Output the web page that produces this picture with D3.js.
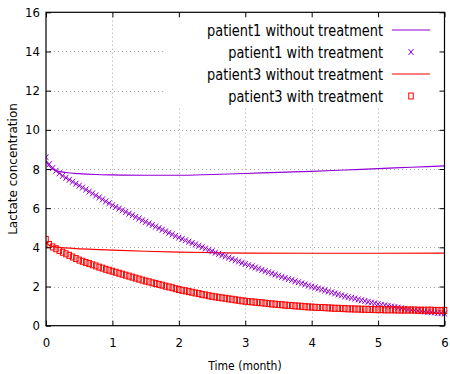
<!DOCTYPE html>
<html>
<head>
<meta charset="utf-8">
<script src="https://cdn.jsdelivr.net/npm/d3@7"></script>
<style>
  html, body { margin: 0; padding: 0; background: #fff; }
  svg { display: block; }
  text { font-family: "DejaVu Sans Condensed", "DejaVu Sans", sans-serif; fill: #000; }
</style>
</head>
<body>
<svg id="chart" width="450" height="374"></svg>
<script>
// ---------- data ----------
const seriesNames = [
  "patient1 without treatment",
  "patient1 with treatment",
  "patient3 without treatment",
  "patient3 with treatment"
];
const xTicks = [0, 1, 2, 3, 4, 5, 6];
const yTicks = [0, 2, 4, 6, 8, 10, 12, 14, 16];

// model curves (lines)
const p1LineTime  = [0, 0.05, 0.1, 0.2, 0.3, 0.5, 0.75, 1, 1.5, 2, 2.5, 3, 3.5, 4, 4.5, 5, 5.5, 6];
const p1LineValue = [8.4, 8.15, 8.0, 7.88, 7.82, 7.76, 7.72, 7.7, 7.68, 7.68, 7.72, 7.77, 7.83, 7.88, 7.95, 8.02, 8.09, 8.16];
const p3LineTime  = [0, 0.05, 0.1, 0.2, 0.4, 0.7, 1, 1.5, 2, 2.5, 3, 4, 5, 6];
const p3LineValue = [4.25, 4.1, 4.04, 4.0, 3.95, 3.9, 3.86, 3.8, 3.76, 3.73, 3.71, 3.7, 3.7, 3.71];

// sampled points (markers), every 0.05 month
const treatTime = [
  0.00,0.05,0.10,0.15,0.20,0.25,0.30,0.35,0.40,0.45,0.50,0.55,0.60,0.65,0.70,0.75,0.80,0.85,0.90,0.95,
  1.00,1.05,1.10,1.15,1.20,1.25,1.30,1.35,1.40,1.45,1.50,1.55,1.60,1.65,1.70,1.75,1.80,1.85,1.90,1.95,
  2.00,2.05,2.10,2.15,2.20,2.25,2.30,2.35,2.40,2.45,2.50,2.55,2.60,2.65,2.70,2.75,2.80,2.85,2.90,2.95,
  3.00,3.05,3.10,3.15,3.20,3.25,3.30,3.35,3.40,3.45,3.50,3.55,3.60,3.65,3.70,3.75,3.80,3.85,3.90,3.95,
  4.00,4.05,4.10,4.15,4.20,4.25,4.30,4.35,4.40,4.45,4.50,4.55,4.60,4.65,4.70,4.75,4.80,4.85,4.90,4.95,
  5.00,5.05,5.10,5.15,5.20,5.25,5.30,5.35,5.40,5.45,5.50,5.55,5.60,5.65,5.70,5.75,5.80,5.85,5.90,5.95,
  6.00
];
const p1Treat = [
  8.60,8.25,8.05,7.91,7.78,7.65,7.55,7.45,7.35,7.25,7.15,7.05,6.95,6.85,6.75,6.65,6.55,6.45,6.35,6.25,
  6.15,6.06,5.98,5.89,5.81,5.72,5.64,5.55,5.47,5.38,5.30,5.22,5.14,5.06,4.98,4.90,4.82,4.74,4.66,4.58,
  4.50,4.43,4.36,4.29,4.22,4.15,4.08,4.01,3.94,3.87,3.80,3.73,3.67,3.60,3.54,3.47,3.41,3.34,3.28,3.21,
  3.15,3.09,3.03,2.97,2.91,2.85,2.79,2.73,2.67,2.61,2.55,2.49,2.44,2.38,2.33,2.27,2.22,2.16,2.11,2.05,
  2.00,1.95,1.90,1.85,1.80,1.75,1.70,1.65,1.60,1.55,1.50,1.46,1.42,1.38,1.34,1.30,1.26,1.22,1.18,1.14,
  1.10,1.07,1.04,1.01,0.98,0.95,0.92,0.89,0.86,0.83,0.80,0.78,0.76,0.74,0.72,0.70,0.69,0.67,0.65,0.64,
  0.62
];
const p3Treat = [
  4.40,4.15,4.02,3.93,3.84,3.75,3.67,3.59,3.51,3.43,3.35,3.29,3.23,3.17,3.11,3.05,2.99,2.94,2.88,2.83,
  2.78,2.73,2.68,2.63,2.58,2.53,2.48,2.43,2.38,2.33,2.28,2.24,2.19,2.15,2.11,2.07,2.02,1.98,1.94,1.89,
  1.85,1.81,1.78,1.74,1.71,1.67,1.64,1.60,1.57,1.53,1.50,1.47,1.45,1.42,1.40,1.37,1.35,1.32,1.30,1.27,
  1.25,1.23,1.22,1.20,1.18,1.17,1.15,1.13,1.11,1.10,1.08,1.07,1.05,1.04,1.03,1.01,1.00,0.99,0.97,0.96,
  0.95,0.94,0.93,0.93,0.92,0.91,0.90,0.89,0.89,0.88,0.87,0.86,0.86,0.85,0.85,0.84,0.84,0.83,0.83,0.82,
  0.82,0.82,0.81,0.81,0.81,0.81,0.80,0.80,0.80,0.80,0.80,0.80,0.79,0.79,0.79,0.79,0.79,0.78,0.78,0.78,
  0.78
];

const purple = "#9400d3";
const red = "#ff0000";

// ---------- layout ----------
const svg = d3.select("#chart");
const L = 46, R = 444.5, T = 12.3, B = 325.7;
const x = d3.scaleLinear().domain([0, 6]).range([L, R]);
const y = d3.scaleLinear().domain([0, 16]).range([B, T]);

// grid
const grid = svg.append("g").attr("stroke", "#a8a8a8").attr("stroke-width", 1).attr("stroke-dasharray", "1,3");
grid.selectAll(".gx").data(xTicks.slice(1, -1)).join("line")
  .attr("x1", d => Math.round(x(d)) + 0.5).attr("x2", d => Math.round(x(d)) + 0.5)
  .attr("y1", B).attr("y2", T);
grid.selectAll(".gy").data(yTicks.slice(1, -1)).join("line")
  .attr("y1", d => Math.round(y(d)) + 0.5).attr("y2", d => Math.round(y(d)) + 0.5)
  .attr("x1", L).attr("x2", R);

// legend background (opaque, hides grid)
svg.append("rect").attr("x", 166).attr("y", T).attr("width", R - 166).attr("height", 108 - T).attr("fill", "#fff");

// data
svg.append("defs").append("clipPath").attr("id", "clip")
  .append("rect").attr("x", L).attr("y", T - 4).attr("width", R - L + 4).attr("height", B - T + 4);
const plot = svg.append("g").attr("clip-path", "url(#clip)");

const line = d3.line().x(d => x(d[0])).y(d => y(d[1])).curve(d3.curveMonotoneX);

plot.append("path").datum(p3LineTime.map((t, i) => [t, p3LineValue[i]]))
  .attr("d", line).attr("fill", "none").attr("stroke", red).attr("stroke-width", 1.2);
plot.append("path").datum(p1LineTime.map((t, i) => [t, p1LineValue[i]]))
  .attr("d", line).attr("fill", "none").attr("stroke", purple).attr("stroke-width", 1.2);

const crossPath = "M-2.5,-3L2.5,3M-2.5,3L2.5,-3";
function drawCross(g, cx, cy) {
  g.append("path").attr("transform", `translate(${cx},${cy})`).attr("d", crossPath)
    .attr("fill", "none").attr("stroke", purple).attr("stroke-width", 1);
}
function drawSquare(g, cx, cy) {
  g.append("rect").attr("x", cx - 2.25).attr("y", cy - 3).attr("width", 4.5).attr("height", 6)
    .attr("fill", "none").attr("stroke", red).attr("stroke-width", 1);
}

const g1 = plot.append("g");
treatTime.forEach((t, i) => drawCross(g1, x(t), y(p1Treat[i])));
const g3 = plot.append("g");
treatTime.forEach((t, i) => drawSquare(g3, x(t), y(p3Treat[i])));

// axes (ticks inward, mirrored)
function styleAxis(g) {
  g.select(".domain").remove();
  g.selectAll(".tick line").attr("stroke", "#000");
  g.selectAll("text").style("font-family", '"DejaVu Sans Condensed", "DejaVu Sans", sans-serif')
    .style("font-size", "13px");
}
svg.append("g").attr("transform", `translate(${L},0)`)
  .call(d3.axisLeft(y).tickValues(yTicks).tickSize(-5).tickPadding(6).tickFormat(d3.format("d")))
  .call(styleAxis);
svg.append("g").attr("transform", `translate(0,${B})`)
  .call(d3.axisBottom(x).tickValues(xTicks).tickSize(-5).tickPadding(12).tickFormat(d3.format("d")))
  .call(styleAxis);
svg.append("g").attr("transform", `translate(${R},0)`)
  .call(d3.axisRight(y).tickValues(yTicks).tickSize(-5).tickFormat(""))
  .call(styleAxis);
svg.append("g").attr("transform", `translate(0,${T})`)
  .call(d3.axisTop(x).tickValues(xTicks).tickSize(-5).tickFormat(""))
  .call(styleAxis);

// border
svg.append("rect").attr("x", L).attr("y", T).attr("width", R - L).attr("height", B - T)
  .attr("fill", "none").attr("stroke", "#000").attr("stroke-width", 1.2);

// legend
const legRows = [30, 52, 74, 96];
const leg = svg.append("g");
const legTexts = [];
seriesNames.forEach((name, i) => {
  const yy = legRows[i];
  const t = leg.append("text").attr("x", 383).attr("y", yy).attr("dy", "0.36em").attr("text-anchor", "end")
    .style("font-size", "16.5px").text(name);
  legTexts.push(t);
  if (i === 0 || i === 2) {
    leg.append("line").attr("x1", 392).attr("x2", 430).attr("y1", yy).attr("y2", yy)
      .attr("stroke", i === 0 ? purple : red).attr("stroke-width", 1.2);
  } else if (i === 1) {
    drawCross(leg, 411, yy);
  } else {
    drawSquare(leg, 411, yy);
  }
});
// squeeze legend text horizontally to match the reference proportions
const factor = 176 / legTexts[0].node().getComputedTextLength();
legTexts.forEach(t => {
  const w = t.node().getComputedTextLength();
  t.attr("textLength", w * factor).attr("lengthAdjust", "spacingAndGlyphs");
});

// axis titles
svg.append("text").attr("x", 245).attr("y", 370).attr("text-anchor", "middle")
  .style("font-size", "12px").text("Time (month)");
svg.append("text").attr("transform", "translate(13,169) rotate(-90)").attr("text-anchor", "middle")
  .attr("dy", "0.35em").style("font-family", '"DejaVu Sans", sans-serif').style("font-size", "12px")
  .text("Lactate concentration");
</script>
</body>
</html>
